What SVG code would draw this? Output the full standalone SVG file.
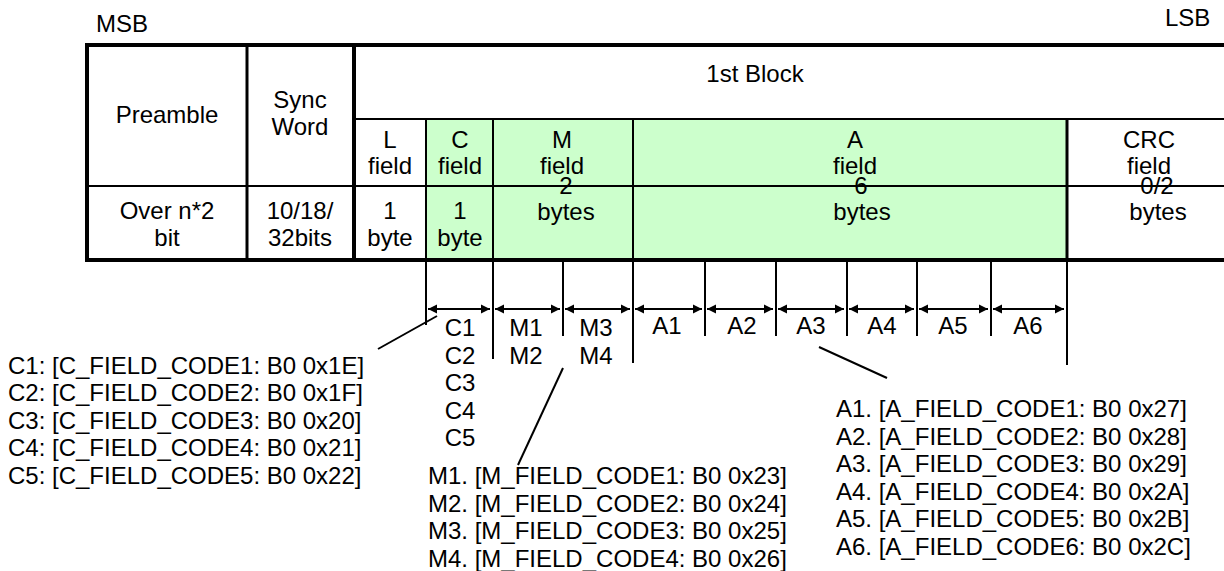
<svg xmlns="http://www.w3.org/2000/svg" width="1224" height="571" viewBox="0 0 1224 571">
<style>
text{font-family:"Liberation Sans",Arial,sans-serif;font-size:24px;fill:#000}
.c{text-anchor:middle}
.thick{stroke:#000;stroke-width:4;fill:none}
.mid{stroke:#000;stroke-width:3;fill:none}
.thin{stroke:#000;stroke-width:2;fill:none}
.green{fill:#CCFFCC;stroke:none}
.arr{stroke:#000;stroke-width:2;fill:none;marker-start:url(#ah);marker-end:url(#ah)}
</style>
<defs>
<marker id="ah" viewBox="0 0 10 10" refX="10" refY="5" markerWidth="9" markerHeight="10" markerUnits="userSpaceOnUse" orient="auto-start-reverse">
<path d="M0,0 L10,5 L0,10 z" fill="#000"/>
</marker>
</defs>
<rect width="1224" height="571" fill="#fff"/>
<text x="96" y="32">MSB</text>
<text x="1165" y="26">LSB</text>

<g id="fill-green"><rect class="green" x="426" y="119" width="641" height="141"/></g>

<g id="table-lines">
<line class="thin" x1="87" y1="186" x2="1224" y2="186"/>
<line class="thin" x1="354" y1="119" x2="1224" y2="119"/>
<line class="mid" x1="247" y1="45" x2="247" y2="260"/>
<line class="thin" x1="426" y1="119" x2="426" y2="260"/>
<line class="thin" x1="493" y1="119" x2="493" y2="260"/>
<line class="thin" x1="633" y1="119" x2="633" y2="260"/>
<line class="mid" x1="1067" y1="119" x2="1067" y2="260"/>
<line class="thick" x1="354" y1="45" x2="354" y2="260"/>
<line class="thick" x1="87" y1="45" x2="1224" y2="45"/>
<line class="thick" x1="87" y1="260" x2="1224" y2="260"/>
<line class="thick" x1="87" y1="43" x2="87" y2="262"/>
</g>

<g id="preamble"><text class="c" x="167" y="123">Preamble</text></g>
<g id="sync-word"><text class="c" x="300" y="108">Sync</text><text class="c" x="300" y="135">Word</text></g>
<g id="preamble-len"><text class="c" x="167" y="219">Over n*2</text><text class="c" x="167" y="246">bit</text></g>
<g id="sync-len"><text class="c" x="300" y="219">10/18/</text><text class="c" x="300" y="246">32bits</text></g>
<g id="first-block"><text class="c" x="755" y="82">1st Block</text></g>
<g id="l-field"><text class="c" x="390" y="148">L</text><text class="c" x="390" y="174">field</text><text class="c" x="390" y="219">1</text><text class="c" x="390" y="246">byte</text></g>
<g id="c-field"><text class="c" x="460" y="148">C</text><text class="c" x="460" y="174">field</text><text class="c" x="460" y="219">1</text><text class="c" x="460" y="246">byte</text></g>
<g id="m-field"><text class="c" x="562" y="148">M</text><text class="c" x="562" y="174">field</text><text class="c" x="566" y="194">2</text><text class="c" x="566" y="220">bytes</text></g>
<g id="a-field"><text class="c" x="855" y="148">A</text><text class="c" x="855" y="174">field</text><text class="c" x="861" y="194">6</text><text class="c" x="862" y="220">bytes</text></g>
<g id="crc-field"><text class="c" x="1149" y="148">CRC</text><text class="c" x="1149" y="174">field</text><text class="c" x="1157" y="194">0/2</text><text class="c" x="1158" y="220">bytes</text></g>

<g id="connectors">
<line class="thin" x1="426" y1="260" x2="426" y2="325"/>
<line class="thin" x1="493" y1="260" x2="493" y2="359"/>
<line class="thin" x1="563" y1="260" x2="563" y2="336"/>
<line class="thin" x1="633" y1="260" x2="633" y2="363"/>
<line class="thin" x1="705" y1="260" x2="705" y2="336"/>
<line class="thin" x1="776" y1="260" x2="776" y2="336"/>
<line class="thin" x1="847" y1="260" x2="847" y2="336"/>
<line class="thin" x1="917" y1="260" x2="917" y2="336"/>
<line class="thin" x1="991" y1="260" x2="991" y2="336"/>
<line class="thin" x1="1067" y1="260" x2="1067" y2="365"/>
<line class="arr" x1="428" y1="309" x2="490" y2="309"/>
<line class="arr" x1="495" y1="309" x2="560" y2="309"/>
<line class="arr" x1="565" y1="309" x2="630" y2="309"/>
<line class="arr" x1="635" y1="309" x2="702" y2="309"/>
<line class="arr" x1="707" y1="309" x2="773" y2="309"/>
<line class="arr" x1="778" y1="309" x2="844" y2="309"/>
<line class="arr" x1="849" y1="309" x2="914" y2="309"/>
<line class="arr" x1="919" y1="309" x2="988" y2="309"/>
<line class="arr" x1="993" y1="309" x2="1064" y2="309"/>
<line class="thin" x1="378" y1="349" x2="437" y2="316"/>
<line class="thin" x1="563" y1="368" x2="518" y2="465"/>
<line class="thin" x1="819" y1="347" x2="887" y2="378"/>
</g>

<g id="c-codes">
<text class="c" x="460" y="336">C1</text><text class="c" x="460" y="363.5">C2</text><text class="c" x="460" y="391">C3</text><text class="c" x="460" y="418.5">C4</text><text class="c" x="460" y="446">C5</text>
</g>
<g id="m-codes">
<text class="c" x="526" y="336">M1</text><text class="c" x="526" y="363.5">M2</text>
<text class="c" x="596" y="336">M3</text><text class="c" x="596" y="363.5">M4</text>
</g>
<g id="a-codes">
<text class="c" x="667" y="334">A1</text><text class="c" x="742" y="334">A2</text><text class="c" x="811" y="334">A3</text>
<text class="c" x="882" y="334">A4</text><text class="c" x="953" y="334">A5</text><text class="c" x="1028" y="334">A6</text>
</g>

<g id="c-list">
<text x="8" y="373.5">C1: [C_FIELD_CODE1: B0 0x1E]</text>
<text x="8" y="401">C2: [C_FIELD_CODE2: B0 0x1F]</text>
<text x="8" y="428.5">C3: [C_FIELD_CODE3: B0 0x20]</text>
<text x="8" y="456">C4: [C_FIELD_CODE4: B0 0x21]</text>
<text x="8" y="483.5">C5: [C_FIELD_CODE5: B0 0x22]</text>
</g>
<g id="m-list">
<text x="428" y="484">M1. [M_FIELD_CODE1: B0 0x23]</text>
<text x="428" y="511.5">M2. [M_FIELD_CODE2: B0 0x24]</text>
<text x="428" y="539">M3. [M_FIELD_CODE3: B0 0x25]</text>
<text x="428" y="566.5">M4. [M_FIELD_CODE4: B0 0x26]</text>
</g>
<g id="a-list">
<text x="836" y="417">A1. [A_FIELD_CODE1: B0 0x27]</text>
<text x="836" y="444.5">A2. [A_FIELD_CODE2: B0 0x28]</text>
<text x="836" y="472">A3. [A_FIELD_CODE3: B0 0x29]</text>
<text x="836" y="499.5">A4. [A_FIELD_CODE4: B0 0x2A]</text>
<text x="836" y="527">A5. [A_FIELD_CODE5: B0 0x2B]</text>
<text x="836" y="554.5">A6. [A_FIELD_CODE6: B0 0x2C]</text>
</g>
</svg>
